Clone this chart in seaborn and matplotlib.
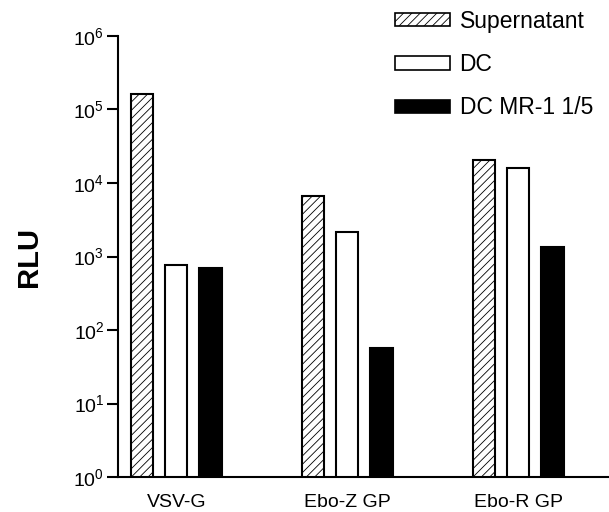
import numpy as np
import pandas as pd
import seaborn as sns
import matplotlib
matplotlib.use("Agg")
from matplotlib import pyplot as plt
from matplotlib.patches import Patch

groups = ["VSV-G", "Ebo-Z GP", "Ebo-R GP"]
series = ["Supernatant", "DC", "DC MR-1 1/5"]
supernatant = [1.6e5, 6.7e3, 2.05e4]
dc = [760, 2150, 1.6e4]
dc_mr1 = [700, 57, 1350]

sns.set_style("ticks")
plt.rcParams["font.family"] = ["Liberation Sans", "DejaVu Sans"]
plt.rcParams["mathtext.fontset"] = "custom"
plt.rcParams["mathtext.rm"] = "Liberation Sans"
plt.rcParams["mathtext.default"] = "regular"
plt.rcParams["hatch.linewidth"] = 0.6
for key in ["text.color", "axes.labelcolor", "xtick.color", "ytick.color", "axes.edgecolor"]:
    plt.rcParams[key] = "black"

df = pd.DataFrame({
    "group": groups * 3,
    "series": [s for s in series for _ in groups],
    "RLU": supernatant + dc + dc_mr1,
})

fig = plt.figure(figsize=(6.09, 5.12), dpi=100)
ax = fig.add_axes([0.194, 0.068, 0.806, 0.862])

sns.barplot(data=df, x="group", y="RLU", hue="series", order=groups,
            hue_order=series, width=0.6, gap=0.35, ax=ax, legend=False,
            edgecolor="black", linewidth=1.5)

styles = [("white", "////"), ("white", ""), ("black", "")]
for cont, (fc, h) in zip(ax.containers, styles):
    for bar in cont:
        bar.set_facecolor(fc)
        bar.set_hatch(h)
        bar.set_edgecolor("black")

ax.set_yscale("log")
ax.set_ylim(1, 1e6)
ax.set_xlim(-0.34, 2.53)
ticks = [10.0 ** k for k in range(7)]
ax.set_yticks(ticks)
ax.set_yticklabels([f"$10^{{{k}}}$" for k in range(7)], fontsize=14)
ax.yaxis.set_minor_locator(matplotlib.ticker.NullLocator())
ax.tick_params(axis="y", length=8, width=1.5, direction="out", pad=2)
ax.tick_params(axis="x", length=0, labelsize=14, pad=12)
ax.set_xlabel("")
ax.set_ylabel("RLU", fontsize=21, fontweight="bold", labelpad=22)
for side in ["top", "right"]:
    ax.spines[side].set_visible(False)
for side in ["left", "bottom"]:
    ax.spines[side].set_linewidth(1.5)

handles = [Patch(facecolor=fc, edgecolor="black", hatch=h, linewidth=1.2)
           for fc, h in styles]
ax.legend(handles, series, loc="upper right", bbox_to_anchor=(1.0, 1.095),
          frameon=False, fontsize=16.5, handlelength=2.4, handleheight=0.5,
          labelspacing=0.88, handletextpad=0.4, borderaxespad=0.3)

fig.savefig("out.png", dpi=100)
